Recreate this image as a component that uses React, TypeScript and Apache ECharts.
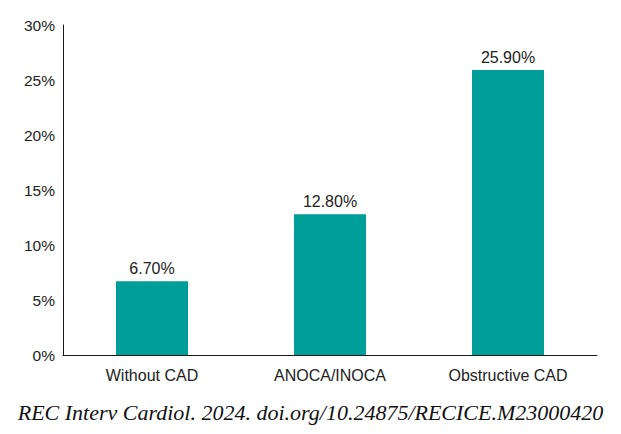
import React, { useEffect, useRef } from 'react';
import * as echarts from 'echarts';

const categories = ['Without CAD', 'ANOCA/INOCA', 'Obstructive CAD'];
const values = [6.7, 12.8, 25.9];
const caption = 'REC Interv Cardiol. 2024. doi.org/10.24875/RECICE.M23000420';

const App: React.FC = () => {
  const chartRef = useRef<HTMLDivElement>(null);

  useEffect(() => {
    if (!chartRef.current) return;
    const chart = echarts.init(chartRef.current, undefined, { renderer: 'svg' });
    const option: echarts.EChartsOption = {
      animation: false,
      backgroundColor: '#ffffff',
      grid: { left: 63, right: 24, top: 25, bottom: 79, containLabel: false },
      xAxis: {
        type: 'category',
        data: categories,
        axisLine: { lineStyle: { color: '#1a1a1a', width: 1 } },
        axisTick: { show: false },
        axisLabel: {
          color: '#222',
          fontFamily: 'Liberation Sans',
          fontSize: 16,
          margin: 12,
        },
      },
      yAxis: {
        type: 'value',
        min: 0,
        max: 30,
        interval: 5,
        axisLine: { show: true, lineStyle: { color: '#1a1a1a', width: 1 } },
        axisTick: { show: false },
        splitLine: { show: false },
        axisLabel: {
          formatter: '{value}%',
          color: '#222',
          fontFamily: 'Liberation Sans',
          fontSize: 15.5,
          margin: 8,
        },
      },
      series: [
        {
          type: 'bar',
          data: values,
          barWidth: 72,
          itemStyle: { color: '#009E99' },
          label: {
            show: true,
            position: 'top',
            distance: 5,
            formatter: (p: any) => `${p.value.toFixed(2)}%`,
            color: '#222',
            fontFamily: 'Liberation Sans',
            fontSize: 16,
          },
        },
      ],
      graphic: [
        {
          type: 'text',
          left: 'center',
          top: 401,
          style: {
            text: caption,
            font: 'italic 22px "Liberation Serif"',
            fill: '#111',
          },
        },
      ],
    };
    chart.setOption(option);
    return () => {
      chart.dispose();
    };
  }, []);

  return (
    <div
      ref={chartRef}
      style={{ position: 'fixed', left: 0, top: 0, width: '621px', height: '434px' }}
    />
  );
};

export default App;
